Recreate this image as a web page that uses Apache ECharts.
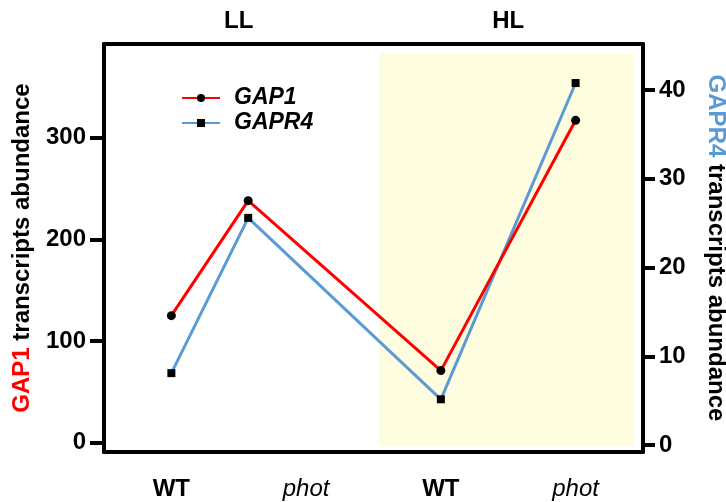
<!DOCTYPE html>
<html>
<head>
<meta charset="utf-8">
<script src="https://cdn.jsdelivr.net/npm/echarts@6/dist/echarts.min.js"></script>
<style>
  html, body { margin: 0; padding: 0; background: #fff; }
  #chart { width: 726px; height: 502px; }
</style>
</head>
<body>
<div id="chart"></div>
<script>
// Genotype labels along the bottom, grouped by light condition on top
const genotypes = ['WT', 'phot', 'WT', 'phot'];
const genotypeStyle = ['b', 'i', 'b', 'i'];
const conditions = ['LL', 'HL'];

// x position of each sample (genotype slots are at 0,1,2,3)
const sampleX = [0, 0.57, 2, 3];
// transcript abundance
const gap1 = [125, 238, 71, 317];
const gapr4 = [8.1, 25.6, 5.15, 40.8];

// axis ticks
const leftTicks = [0, 100, 200, 300];
const rightTicks = [0, 10, 20, 30, 40];

const FONT = 'Liberation Sans, Arial, sans-serif';
const BLUE = '#5b9bd5';
const RED = '#ff0000';

const chart = echarts.init(document.getElementById('chart'));

const axisLineStyle = { show: true, onZero: false, lineStyle: { color: '#000', width: 4 } };

chart.setOption({
  animation: false,
  grid: { left: 104, right: 83, top: 44, bottom: 50, outerBoundsMode: 'none', containLabel: false },
  legend: {
    orient: 'vertical',
    left: 176,
    top: 81,
    itemWidth: 38,
    itemHeight: 10,
    itemGap: 1,
    textStyle: {
      fontFamily: FONT, fontSize: 23, fontWeight: 'bold', fontStyle: 'italic', color: '#000',
      lineHeight: 24, padding: [0, 0, 0, 9]
    },
    data: ['GAP1', 'GAPR4']
  },
  xAxis: [
    {
      type: 'value', position: 'bottom', min: -0.5, max: 3.5,
      axisLine: axisLineStyle,
      axisTick: { show: false },
      splitLine: { show: false },
      axisLabel: {
        customValues: genotypes.map((_, i) => i),
        margin: 25,
        formatter: v => `{${genotypeStyle[v]}|${genotypes[v]}}`,
        rich: {
          b: { fontFamily: FONT, fontSize: 24, fontWeight: 'bold', color: '#000' },
          i: { fontFamily: FONT, fontSize: 24, fontStyle: 'italic', color: '#000' }
        }
      }
    },
    {
      type: 'value', position: 'top', min: -0.5, max: 3.5,
      axisLine: axisLineStyle,
      axisTick: { show: false },
      splitLine: { show: false },
      axisLabel: {
        customValues: conditions.map((_, i) => 0.5 + 2 * i),
        margin: 11,
        formatter: v => conditions[Math.round((v - 0.5) / 2)],
        fontFamily: FONT, fontSize: 24, fontWeight: 'bold', color: '#000'
      }
    }
  ],
  yAxis: [
    {
      type: 'value', position: 'left', min: -9, max: 392,
      axisLine: axisLineStyle,
      axisTick: { show: true, customValues: leftTicks, length: 14, lineStyle: { color: '#000', width: 4 } },
      splitLine: { show: false },
      axisLabel: {
        customValues: leftTicks, margin: 18,
        fontFamily: FONT, fontSize: 24, fontWeight: 'bold', color: '#000'
      },
      name: '{r|GAP1} transcripts abundance',
      nameLocation: 'middle',
      nameRotate: 90,
      nameGap: 70,
      nameTextStyle: {
        fontFamily: FONT, fontSize: 24, fontWeight: 'bold', color: '#000',
        rich: { r: { fontFamily: FONT, fontSize: 24, fontWeight: 'bold', color: RED } }
      }
    },
    {
      type: 'value', position: 'right', min: -0.79, max: 45.2,
      axisLine: axisLineStyle,
      axisTick: { show: true, customValues: rightTicks, length: 12, lineStyle: { color: '#000', width: 4 } },
      splitLine: { show: false },
      axisLabel: {
        customValues: rightTicks, margin: 16,
        fontFamily: FONT, fontSize: 24, fontWeight: 'bold', color: '#000'
      },
      name: '{b|GAPR4} transcripts abundance',
      nameLocation: 'middle',
      nameRotate: -90,
      nameGap: 61,
      nameTextStyle: {
        fontFamily: FONT, fontSize: 24, fontWeight: 'bold', color: '#000',
        rich: { b: { fontFamily: FONT, fontSize: 24, fontWeight: 'bold', color: BLUE } }
      }
    }
  ],
  series: [
    {
      name: 'GAP1',
      type: 'line',
      xAxisIndex: 0, yAxisIndex: 0,
      data: gap1.map((v, i) => [sampleX[i], v]),
      symbol: 'circle', symbolSize: 9,
      lineStyle: { color: RED, width: 3 },
      itemStyle: { color: '#000' },
      z: 4,
      markArea: {
        silent: true,
        itemStyle: { color: '#fefde0' },
        data: [[{ coord: [1.54, -3] }, { coord: [3.43, 383] }]],
        z: 0
      }
    },
    {
      name: 'GAPR4',
      type: 'line',
      xAxisIndex: 0, yAxisIndex: 1,
      data: gapr4.map((v, i) => [sampleX[i], v]),
      symbol: 'rect', symbolSize: 8,
      lineStyle: { color: BLUE, width: 3 },
      itemStyle: { color: '#000' },
      z: 3
    }
  ]
});
</script>
</body>
</html>
